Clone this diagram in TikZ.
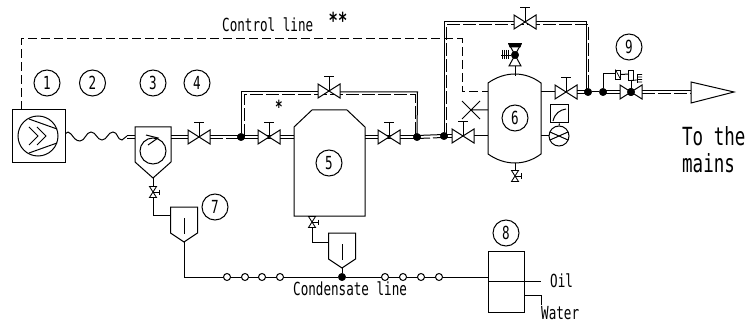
\documentclass[tikz,border=0pt]{standalone}
\usepackage{fontspec}
\newfontfamily\isofont[FakeStretch=0.7]{DejaVu Sans Mono}
\usetikzlibrary{calc}
\newcommand{\dblsolid}[2]{\draw[ln] ($(#1)+(0,-1.5)$) -- ($(#2)+(0,-1.5)$); \draw[ln] ($(#1)+(0,1.5)$) -- ($(#2)+(0,1.5)$);}
\newcommand{\dblctrl}[2]{\draw[ln] ($(#1)+(0,-1.5)$) -- ($(#2)+(0,-1.5)$); \draw[ctrl] ($(#1)+(0,1.5)$) -- ($(#2)+(0,1.5)$);}
\tikzset{
  ln/.style={draw=black,line width=1pt,line join=miter},
  thin ln/.style={draw=black,line width=0.85pt},
  ctrl/.style={draw=black,line width=1pt,dash pattern=on 13pt off 3pt},
  ctrlb/.style={draw=black,line width=1pt,dash pattern=on 9pt off 4pt},
  num/.style={draw=black,line width=1pt,circle,minimum size=26pt,inner sep=0pt,font=\isofont\fontsize{18}{18}\selectfont},
  lbl/.style={inner sep=0pt,anchor=west,font=\isofont\fontsize{18}{18}\selectfont},
  biglbl/.style={inner sep=0pt,anchor=west,font=\isofont\fontsize{25}{25}\selectfont},
  starlbl/.style={inner sep=0pt,font=\isofont\bfseries\fontsize{22}{22}\selectfont},
  dot/.style={fill=black,draw=black,circle,minimum size=7.5pt,inner sep=0pt},
  hollow/.style={fill=white,draw=black,line width=1pt,circle,minimum size=7pt,inner sep=0pt},
  hvalve/.pic={
    \draw[ln,fill=white] (-11,-7) -- (11,7) -- (11,-7) -- (-11,7) -- cycle;
    \draw[ln] (0,0) -- (0,-14) (-5,-14) -- (5,-14);
  },
  hvalvebare/.pic={
    \draw[ln,fill=white] (-11,-7) -- (11,7) -- (11,-7) -- (-11,7) -- cycle;
  },
  smallvalve/.pic={
    \draw[thin ln,fill=white] (-3.5,-5.5) -- (3.5,5.5) -- (-3.5,5.5) -- (3.5,-5.5) -- cycle;
    \draw[thin ln] (0,0) -- (6,0) (6,-2.5) -- (6,2.5);
  },
  trap/.pic={
    \draw[ln] (-13.5,0) -- (13.5,0) -- (13.5,26) -- (0,35) -- (-13.5,26) -- cycle;
    \draw[ln] (0,11) -- (0,27);
  }
}
\begin{document}
\begin{tikzpicture}[x=1pt,y=-1pt]
\useasboundingbox (0,0) rectangle (754,323);
% named points
\coordinate (main0) at (127,137);
\coordinate (sepL) at (135,137);
\coordinate (sepR) at (171,137);
\coordinate (tankAL) at (294,137);
\coordinate (tankAR) at (365,137);
\coordinate (tankBL) at (488,136);
\coordinate (tankBR) at (541,92);
\coordinate (v4) at (199,137);
\coordinate (v5a) at (269,137);
\coordinate (v5b) at (329,91);
\coordinate (v5c) at (389,137);
\coordinate (v6a) at (463,136);
\coordinate (v6b) at (525,22);
\coordinate (v6c) at (566,92);
\coordinate (v9) at (631,92);
\coordinate (v9b) at (642,92);
\coordinate (cone) at (691,92);
\node[dot] (j1) at (241,137) {};
\node[dot] (j2) at (417,137) {};
\node[dot] (j3) at (444,136) {};
\node[dot] (j4) at (588,92) {};
\node[dot] (j5) at (603,92) {};
\node[dot] (j6) at (631,92) {};
\node[dot] (j7) at (342,277) {};
% control line
\coordinate (c1) at (21,110);
\coordinate (c2) at (21,39);
\coordinate (c3) at (462,39);
\coordinate (c4) at (462,92);
\coordinate (c5) at (488,92);
\draw[ctrlb] (c1) -- (c2) -- (c3) -- (c4) -- (c5);
\node[lbl] (tctrl) at (222,25) {Control line};
\node[starlbl] (tstar2) at (338,20) {**};
\node[starlbl,font=\isofont\bfseries\fontsize{18}{18}\selectfont] (tstar1) at (279,107) {*};
% compressor
\node[draw=black,line width=1pt,minimum size=53pt,inner sep=0pt] (comp) at (38.5,136.5) {};
\node[draw=black,line width=1pt,circle,minimum size=40pt,inner sep=0pt] (compc) at (38,136) {};
\draw[ln] (29,145) -- (38,136) -- (29,127) (37,145) -- (46,136) -- (37,127);
\draw[ln] (29,119) -- (57,129) (29,153) -- (57,143);
% hose
\draw[ln] (comp.east) ++(0,-3) .. controls (67,131) and (69,132) .. (71,134) .. controls (74,138) and (76,141) .. (80,141) .. controls (85,141) and (86,132) .. (91,132) .. controls (96,132) and (97,140) .. (102,140) .. controls (107,140) and (108,132) .. (113,132) .. controls (118,132) and (117,140) .. (122,140) -- (127,136);
\draw[ln] (main0) ++(0,-1.5) -- (135,135.5);
\draw[ln] (main0) ++(0,1.5) -- (135,138.5);
% separator 3
\draw[ln] (135,127) -- (171,127) -- (171,162) -- (153,178) -- (135,162) -- cycle;
\node[draw=black,line width=1pt,circle,minimum size=26pt,inner sep=0pt] (sepc) at (153,151) {};
\draw[ln] (146,135) -- (158,138) -- (148,145);
% separator 3 drain and trap 7
\coordinate (s3t) at (153,178);
\coordinate (p7a) at (153,215);
\coordinate (p7b) at (171,215);
\draw[ln] (s3t) -- (p7a) -- (p7b);
\path (153,192) pic {smallvalve};
\path (184,207) pic {trap};
% condensate line
\coordinate (t7tip) at (184,242);
\coordinate (t7c) at (184,277);
\coordinate (box8l) at (488,277);
\draw[ln] (t7tip) -- (t7c) -- (j7) -- (box8l);
\foreach \x/\n in {227/a,245/b,262/c,280/d,385/e,403/f,421/g,439/h}
  \node[hollow] (h\n) at (\x,277) {};
% tank 5
\draw[ln] (294,127) -- (312,110) -- (347,110) -- (365,127) -- (365,216) -- (294,216) -- cycle;
\coordinate (t5b) at (312,216);
\coordinate (p5a) at (312,242);
\coordinate (p5b) at (329,242);
\draw[ln] (t5b) -- (p5a) -- (p5b);
\path (312,222) pic {smallvalve};
\path (342,233) pic {trap};
\draw[ln] (342,268) -- (j7);
% main pipes
\dblsolid{sepR}{188,137}
\dblctrl{210,137}{j1}
\dblsolid{j1}{tankAL}
\dblsolid{tankAR}{j2}
\dblctrl{j2}{j3}
\dblctrl{j3}{452,136}
\draw[ln] (474,136) -- (tankBL);
\path (v4) pic {hvalve};
\path (v5a) pic {hvalve};
\path (v5c) pic {hvalve};
% bypass 5
\draw[ln] (j1) -- (241,92) -- (318,92);
\draw[ln] (340,92) -- (417.5,92) -- (j2);
\draw[ctrl] (244,137) -- (244,95) -- (415,95) -- (415,137);
\path (v5b) pic {hvalve};
% bypass 6
\draw[ln] (j3) -- (444,22) -- (514,22);
\draw[ln] (536,22) -- (586,22) -- (586,92);
\draw[ctrl] (446.5,136) -- (446.5,24.5) -- (588.5,24.5) -- (588.5,92);
\path (v6b) pic {hvalve};
\path (v6a) pic {hvalve};
% tank 6
\draw[ln] (488,83) .. controls (505,71) and (525,71) .. (541,83) -- (541,154) .. controls (525,166) and (505,166) .. (488,154) -- cycle;
\node[num] (n6) at (515,118) {6};
% X nozzle
\coordinate (xc) at (471,110);
\draw[ln] (462,101) -- (480,119) (462,119) -- (480,101) (xc) -- (488,110);
% gauge
\node[draw=black,line width=1pt,circle,minimum size=20pt,inner sep=0pt] (ga) at (559,136) {};
\draw[ln] (541,136) -- (ga.west);
\draw[ln] (550,132) -- (568,140) (550,140) -- (568,132);
\node[draw=black,line width=1pt,minimum width=17.5pt,minimum height=18pt,inner sep=0pt] (gb) at (559.5,114) {};
\draw[ln] (gb.south) -- (ga.north);
\draw[ln] (553,121) .. controls (555,113) and (560,110) .. (566,109);
% top safety valve
\draw[ln] (515,66) -- (515,76);
\draw[ln,fill=white] (509,44) -- (521,66) -- (509,66) -- (521,44) -- cycle;
\draw[ln,fill=black] (509,44) -- (521,44) -- (520,47) -- (510,47) -- cycle;
\draw[ln] (508,43.5) -- (522,43.5);
\node[dot] (tv) at (515,55) {};
\draw[ln,line width=0.8pt] (502,50) -- (502,59) (504,50) -- (504,59) (506,50) -- (506,59) (508,50) -- (508,59) (501,55) -- (tv);
% bottom valve of tank 6
\draw[ln] (515,163) -- (515,170);
\path (515,176) pic {smallvalve};
% outlet of tank 6
\draw[ln] (tankBR) -- (555,92);
\path (v6c) pic {hvalve};
\dblsolid{577,92}{j4}
\draw[ln] (j4) -- (j5);
\dblsolid{j5}{620,92}
\dblctrl{v9b}{cone}
\path (v9) pic {hvalvebare};
\node[dot] at (v9) {};
% pilot
\coordinate (pl1) at (603,74);
\coordinate (pl2) at (616,74);
\draw[ln] (j5) -- (pl1) -- (pl2);
\node[draw=black,line width=0.85pt,minimum width=4.5pt,minimum height=9pt,inner sep=0pt] (pr1) at (618,74.5) {};
\draw[line width=0.7pt] (pr1.north west) -- (pr1.south east);
\draw[ln] (pr1.east) -- (629,74);
\node[draw=black,line width=0.85pt,minimum width=4.5pt,minimum height=10pt,inner sep=0pt] (pr2) at (631,75) {};
\draw[ln] (pr2.south) -- (j6);
\draw[line width=0.8pt] (pr2.south) -- (637,80) (637,74.5) -- (642,74.5) (637,77) -- (642,77) (637,79.5) -- (642,79.5) (637,82) -- (642,82);
\draw[line width=0.8pt] (637,74) -- (637,83);
% cone
\draw[ln] (cone) ++(0,-10) -- (734,92) -- (691,103) -- cycle;
% box 8
\draw[ln] (488,251) rectangle (524,312);
\coordinate (oilL) at (488,281);
\coordinate (oilR) at (541,281);
\coordinate (watL) at (524,295);
\coordinate (watM) at (541,295);
\coordinate (watE) at (541,305);
\draw[ln] (oilL) -- (oilR);
\draw[ln] (watL) -- (watM) -- (watE);
% labels
\node[num] (n1) at (47,83) {1};
\node[num] (n2) at (92.5,83) {2};
\node[num] (n3) at (153,83) {3};
\node[num] (n4) at (197,83) {4};
\node[num] (n5) at (329,163) {5};
\node[num] (n7) at (215,207) {7};
\node[num] (n8) at (506,233) {8};
\node[num] (n9) at (629,47) {9};
\node[lbl] (toil) at (550,281) {Oil};
\node[lbl] (twat) at (541,313) {Water};
\node[lbl] (tcond) at (293,289) {Condensate line};
\node[biglbl] (tto) at (682,136) {To the};
\node[biglbl] (tmains) at (682,163) {mains};
\end{tikzpicture}
\end{document}
